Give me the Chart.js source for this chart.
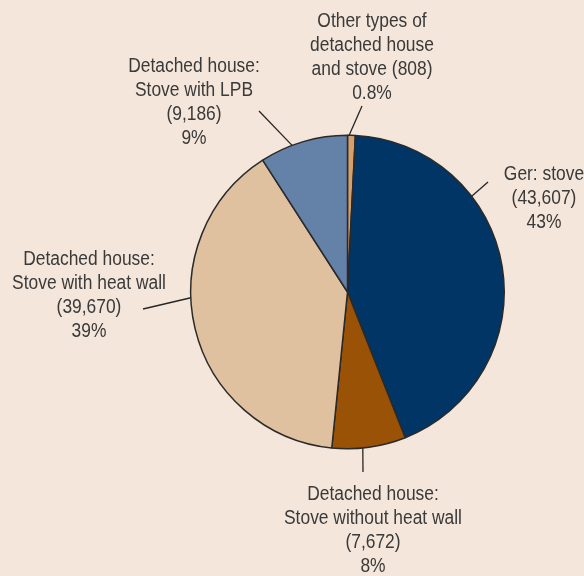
<!DOCTYPE html>
<html>
<head>
<meta charset="utf-8">
<script src="https://cdn.jsdelivr.net/npm/chart.js@4/dist/chart.umd.min.js"></script>
<style>
  html, body { margin: 0; padding: 0; background: #f4e6da; }
  canvas { display: block; }
</style>
</head>
<body>
<canvas id="chart" width="584" height="576"></canvas>
<script>
// slice data, clockwise from 12 o'clock
var sliceNames = [
    ['Other types of', 'detached house', 'and stove'],
    ['Ger: stove'],
    ['Detached house:', 'Stove without heat wall'],
    ['Detached house:', 'Stove with heat wall'],
    ['Detached house:', 'Stove with LPB']
];
var sliceValues = [808, 43607, 7672, 39670, 9186];
var sliceColors = ['#d6a06c', '#003566', '#9a5207', '#dfc09f', '#6481a8'];

// where each callout sits: angle on the rim (deg from top, clockwise), line end, text centre + first baseline
var callouts = [
    { angle: 0.6,   end: [362, 106],   tx: 372, ty: 27,  inline: true },
    { angle: 52.4,  end: [488, 182],   tx: 544, ty: 180 },
    { angle: 174.4, end: [363, 472],   tx: 373, ty: 500 },
    { angle: 267.9, end: [143, 309],   tx: 89,  ty: 265 },
    { angle: 339.3, end: [259, 111],   tx: 194, ty: 72 }
];

var lineHeight = 24;
var labelFont = '20px "Liberation Sans", Arial, sans-serif';
var condense = 0.87; // squeeze text horizontally, the original uses a condensed face

function pctText(v, total) {
    let p = v / total * 100;
    return (p < 1 ? p.toFixed(1) : Math.round(p)) + '%';
}

var calloutPlugin = {
    id: 'callouts',
    afterDraw: function(chart) {
        let ctx = chart.ctx;
        let arcs = chart.getDatasetMeta(0).data;
        let cx = arcs[0].x, cy = arcs[0].y, r = arcs[0].outerRadius;
        let total = sliceValues.reduce((a, b) => a + b, 0);

        for(let i=0; i<callouts.length; i++) {
            let c = callouts[i];
            let a = (c.angle - 90) * Math.PI / 180;

            //leader line
            ctx.save();
            ctx.beginPath();
            ctx.moveTo(cx + r*Math.cos(a), cy + r*Math.sin(a));
            ctx.lineTo(c.end[0], c.end[1]);
            ctx.strokeStyle = '#262626';
            ctx.lineWidth = 1.3;
            ctx.stroke();
            ctx.restore();

            //text
            let lines = sliceNames[i].slice();
            let valText = '(' + sliceValues[i].toLocaleString('en-US') + ')';
            if(c.inline) {
                lines[lines.length-1] += ' ' + valText;
            }
            else {
                lines.push(valText);
            }
            lines.push(pctText(sliceValues[i], total));

            for(let j=0; j<lines.length; j++) {
                ctx.save();
                ctx.translate(c.tx, c.ty + j*lineHeight);
                ctx.scale(condense, 1);
                ctx.font = labelFont;
                ctx.fillStyle = '#3a3a3a';
                ctx.textAlign = 'center';
                ctx.textBaseline = 'alphabetic';
                ctx.fillText(lines[j], 0, 0);
                ctx.restore();
            }
        }
    }
};

var ctx = document.getElementById('chart').getContext('2d');
new Chart(ctx, {
    type: 'pie',
    data: {
        labels: sliceNames.map(n => n.join(' ')),
        datasets: [{
            data: sliceValues,
            backgroundColor: sliceColors,
            borderColor: '#2a2a2a',
            borderWidth: 1.5
        }]
    },
    options: {
        responsive: false,
        animation: false,
        events: [],
        layout: {
            padding: { left: 190, right: 79, top: 134, bottom: 126 }
        },
        plugins: {
            legend: { display: false },
            tooltip: { enabled: false }
        }
    },
    plugins: [calloutPlugin]
});
</script>
</body>
</html>
